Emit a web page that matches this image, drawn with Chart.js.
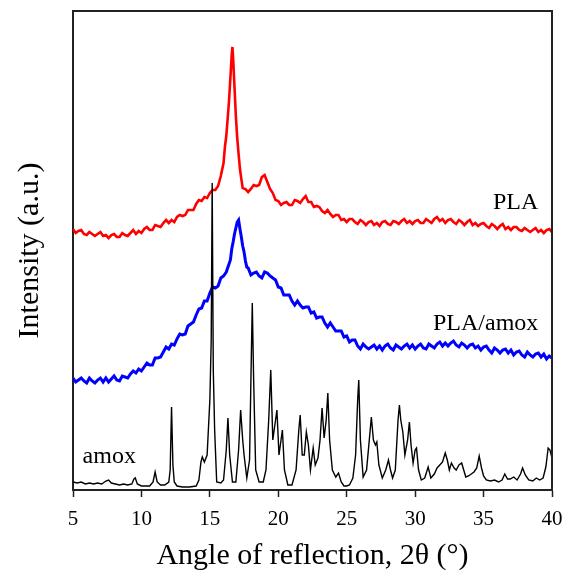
<!DOCTYPE html>
<html>
<head>
<meta charset="utf-8">
<script src="https://cdn.jsdelivr.net/npm/chart.js@4"></script>
<style>
  html, body { margin: 0; padding: 0; background: #ffffff; }
  #wrap { width: 565px; height: 574px; }
</style>
</head>
<body>
<div id="wrap"><canvas id="c" width="565" height="574"></canvas></div>
<script>
// ---- Data (2θ in degrees, intensity in a.u., curves offset vertically as in the figure) ----
const amoxAngles = [5.0,5.3,5.6,5.9,6.2,6.5,6.8,7.1,7.4,7.6,7.8,8.1,8.4,8.7,9.0,9.3,9.45,9.55,9.7,10.0,10.3,10.6,10.85,11.0,11.15,11.4,11.7,12.0,12.1,12.2,12.3,12.4,12.6,13.0,13.5,14.0,14.2,14.35,14.45,14.6,14.8,15.0,15.1,15.17,15.25,15.35,15.5,15.8,16.0,16.2,16.32,16.45,16.65,16.9,17.1,17.25,17.4,17.5,17.7,17.9,18.0,18.1,18.2,18.35,18.6,18.9,19.1,19.3,19.45,19.6,19.8,19.9,20.05,20.2,20.3,20.45,20.7,21.0,21.3,21.5,21.6,21.75,21.9,22.05,22.2,22.35,22.55,22.7,22.9,23.05,23.2,23.35,23.5,23.62,23.75,23.95,24.2,24.4,24.6,24.8,25.0,25.2,25.45,25.65,25.8,25.88,26.0,26.2,26.45,26.65,26.8,26.95,27.1,27.2,27.35,27.6,27.85,28.05,28.2,28.35,28.55,28.75,28.85,28.95,29.1,29.25,29.45,29.58,29.7,29.85,30.0,30.1,30.25,30.45,30.7,30.95,31.15,31.4,31.6,31.8,32.0,32.2,32.35,32.5,32.65,32.85,33.0,33.2,33.4,33.55,33.7,33.9,34.1,34.3,34.5,34.68,34.85,35.0,35.2,35.5,35.8,36.1,36.35,36.55,36.75,36.95,37.2,37.45,37.7,37.85,38.05,38.3,38.6,38.85,39.1,39.35,39.55,39.72,39.85,40.0];
const amoxValues = [8,7,8,6,7,6,7,6,9,10,7,6,5,6,5,6,11,12,6,4,4,4,8,18,8,5,5,8,20,83,25,8,4,3,3,4,10,28,33,28,35,90,150,307,120,60,8,7,10,40,72,35,8,8,40,80,50,35,12,30,110,187,110,20,8,8,20,70,120,50,70,80,35,50,60,20,5,5,20,60,75,35,35,58,45,20,42,25,32,50,82,52,70,97,50,20,13,17,8,4,4,5,12,35,90,110,50,13,20,50,73,50,45,48,25,12,20,30,20,12,20,70,85,70,58,35,50,68,45,27,40,42,20,10,12,23,12,16,22,25,28,37,30,20,27,22,20,25,27,20,13,14,16,18,22,34,22,14,10,9,10,8,10,16,11,11,13,10,16,22,15,10,9,12,10,12,23,42,40,32];

const plaAngles = [5.0,5.2,5.4,5.6,5.8,6.0,6.2,6.4,6.6,6.8,7.0,7.2,7.4,7.6,7.8,8.0,8.2,8.4,8.6,8.8,9.0,9.2,9.4,9.6,9.8,10.0,10.2,10.4,10.6,10.8,11.0,11.2,11.4,11.6,11.8,12.0,12.2,12.4,12.6,12.8,13.0,13.2,13.4,13.6,13.8,14.0,14.2,14.4,14.6,14.8,15.0,15.2,15.4,15.6,15.8,16.0,16.1,16.2,16.3,16.4,16.5,16.6,16.65,16.7,16.8,16.9,17.0,17.1,17.2,17.3,17.4,17.6,17.8,18.0,18.2,18.4,18.6,18.8,19.0,19.2,19.4,19.6,19.8,20.0,20.2,20.4,20.6,20.8,21.0,21.2,21.4,21.6,21.8,22.0,22.2,22.4,22.6,22.8,23.0,23.2,23.4,23.6,23.8,24.0,24.2,24.4,24.6,24.8,25.0,25.2,25.4,25.6,25.8,26.0,26.2,26.4,26.6,26.8,27.0,27.2,27.4,27.6,27.8,28.0,28.2,28.4,28.6,28.8,29.0,29.2,29.4,29.6,29.8,30.0,30.2,30.4,30.6,30.8,31.0,31.2,31.4,31.6,31.8,32.0,32.2,32.4,32.6,32.8,33.0,33.2,33.4,33.6,33.8,34.0,34.2,34.4,34.6,34.8,35.0,35.2,35.4,35.6,35.8,36.0,36.2,36.4,36.6,36.8,37.0,37.2,37.4,37.6,37.8,38.0,38.2,38.4,38.6,38.8,39.0,39.2,39.4,39.6,39.8,40.0];
const plaValues = [261,257,259,260,256,255,258,256,254,256,258,254,255,252,255,256,253,253,257,255,254,257,260,256,259,257,261,263,260,260,265,264,263,267,270,267,270,268,273,275,274,275,280,280,280,286,290,289,293,292,297,300,300,304,314,
  327,343,354,371,389,412,436,443,432,403,374,352,336,321,311,302,
  301,298,301,305,304,305,313,315,308,301,297,290,289,285,287,288,285,285,290,289,287,291,294,288,288,283,284,283,279,277,280,276,273,275,275,270,271,268,271,271,268,266,270,268,265,268,269,265,267,264,268,269,266,265,269,268,266,269,271,267,269,266,269,270,267,267,271,269,267,271,273,269,271,267,270,271,268,266,270,268,265,268,270,265,267,264,266,267,264,262,266,264,261,264,266,261,263,260,263,263,260,259,262,260,258,260,262,258,260,257,260,261,258];

const blendAngles = [5.0,5.2,5.4,5.6,5.8,6.0,6.2,6.4,6.6,6.8,7.0,7.2,7.4,7.6,7.8,8.0,8.2,8.4,8.6,8.8,9.0,9.2,9.4,9.6,9.8,10.0,10.2,10.4,10.6,10.8,11.0,11.2,11.4,11.6,11.8,12.0,12.2,12.4,12.6,12.8,13.0,13.2,13.4,13.6,13.8,14.0,14.2,14.4,14.6,14.8,15.0,15.2,15.4,15.6,15.8,16.0,16.2,16.4,16.5,16.6,16.7,16.8,16.9,17.0,17.1,17.2,17.3,17.4,17.5,17.6,17.7,17.8,18.0,18.2,18.4,18.6,18.8,19.0,19.2,19.4,19.6,19.8,20.0,20.2,20.4,20.6,20.8,21.0,21.2,21.4,21.6,21.8,22.0,22.2,22.4,22.6,22.8,23.0,23.2,23.4,23.6,23.8,24.0,24.2,24.4,24.6,24.8,25.0,25.2,25.4,25.6,25.8,26.0,26.2,26.4,26.6,26.8,27.0,27.2,27.4,27.6,27.8,28.0,28.2,28.4,28.6,28.8,29.0,29.2,29.4,29.6,29.8,30.0,30.2,30.4,30.6,30.8,31.0,31.2,31.4,31.6,31.8,32.0,32.2,32.4,32.6,32.8,33.0,33.2,33.4,33.6,33.8,34.0,34.2,34.4,34.6,34.8,35.0,35.2,35.4,35.6,35.8,36.0,36.2,36.4,36.6,36.8,37.0,37.2,37.4,37.6,37.8,38.0,38.2,38.4,38.6,38.8,39.0,39.2,39.4,39.6,39.8,40.0];
const blendValues = [112,108,110,112,109,107,112,109,107,110,112,108,112,108,111,114,110,109,114,113,112,116,119,117,121,119,123,127,125,125,132,132,133,138,143,141,146,145,151,156,155,156,164,166,168,175,181,182,189,189,197,203,202,204,212,214,218,226,
  230,241,248,256,262,268,270,261,253,244,238,229,223,
  222,215,217,218,214,212,218,217,214,212,210,203,202,195,195,195,189,185,189,185,182,183,183,177,178,172,173,173,167,163,167,163,159,159,159,153,154,148,150,150,144,141,146,143,141,143,145,141,144,140,144,146,142,140,145,143,141,144,146,142,145,141,144,146,142,141,146,144,142,146,148,144,147,144,147,149,145,143,147,145,142,145,146,142,144,140,143,144,140,137,142,140,137,140,141,137,140,135,138,139,135,133,138,135,133,136,137,133,136,131,134,132];

const seriesNames = ['amox', 'PLA', 'PLA/amox'];
const seriesColors = ['#000000', '#ff0000', '#0000ff'];
const xTicks = [5, 10, 15, 20, 25, 30, 35, 40];
const xTitle = 'Angle of reflection, 2\u03B8 (\u00B0)';
const yTitle = 'Intensity (a.u.)';

const serif = "'Liberation Serif', 'Times New Roman', Times, serif";

function pts(a, v) { return a.map((x, i) => ({ x: x, y: v[i] })); }

const framePlugin = {
  id: 'frame',
  afterDraw(chart) {
    const { ctx, chartArea: a, scales } = chart;
    ctx.save();
    ctx.strokeStyle = '#222222';
    ctx.lineWidth = 2;
    ctx.beginPath();
    ctx.moveTo(a.left, a.top);
    ctx.lineTo(a.right, a.top);
    ctx.lineTo(a.right, a.bottom);
    ctx.stroke();
    // series labels
    ctx.fillStyle = '#000000';
    ctx.font = '24px ' + serif;
    ctx.textBaseline = 'alphabetic';
    ctx.textAlign = 'right';
    ctx.fillText(seriesNames[1], scales.x.getPixelForValue(39.0), scales.y.getPixelForValue(281));
    ctx.fillText(seriesNames[2], scales.x.getPixelForValue(39.0), scales.y.getPixelForValue(160));
    ctx.textAlign = 'left';
    ctx.fillText(seriesNames[0], scales.x.getPixelForValue(5.7), scales.y.getPixelForValue(27));
    ctx.restore();
  }
};

new Chart(document.getElementById('c'), {
  type: 'scatter',
  data: {
    datasets: [
      { label: seriesNames[0], data: pts(amoxAngles, amoxValues), showLine: true, borderColor: seriesColors[0], borderWidth: 1.4, pointRadius: 0, tension: 0 },
      { label: seriesNames[1], data: pts(plaAngles, plaValues), showLine: true, borderColor: seriesColors[1], borderWidth: 2.6, pointRadius: 0, tension: 0 },
      { label: seriesNames[2], data: pts(blendAngles, blendValues), showLine: true, borderColor: seriesColors[2], borderWidth: 3.0, pointRadius: 0, tension: 0 }
    ]
  },
  options: {
    responsive: false,
    animation: false,
    events: [],
    layout: { padding: { left: 0, right: 13, top: 11, bottom: 0 } },
    plugins: { legend: { display: false }, tooltip: { enabled: false } },
    scales: {
      x: {
        type: 'linear',
        min: 5, max: 40,
        afterBuildTicks(scale) { scale.ticks = xTicks.map(v => ({ value: v })); },
        afterFit(scale) { scale.height = 84; scale.paddingLeft = 0; scale.paddingRight = 0; },
        ticks: { color: '#000', font: { family: serif, size: 21 }, padding: 10, maxRotation: 0 },
        grid: { display: true, drawOnChartArea: false, drawTicks: true, tickLength: 7, tickWidth: 1.5, tickColor: '#222' },
        border: { display: true, color: '#222', width: 2 },
        title: { display: true, text: xTitle, color: '#000', font: { family: serif, size: 30 }, padding: { top: 0, bottom: 0 } }
      },
      y: {
        type: 'linear',
        min: 0, max: 479,
        afterFit(scale) { scale.width = 73; scale.paddingTop = 0; scale.paddingBottom = 0; },
        ticks: { display: false },
        grid: { display: false, drawTicks: false },
        border: { display: true, color: '#222', width: 2 },
        title: { display: true, text: yTitle, color: '#000', font: { family: serif, size: 30 }, padding: { top: 12, bottom: 0 } }
      }
    }
  },
  plugins: [framePlugin]
});
</script>
</body>
</html>
